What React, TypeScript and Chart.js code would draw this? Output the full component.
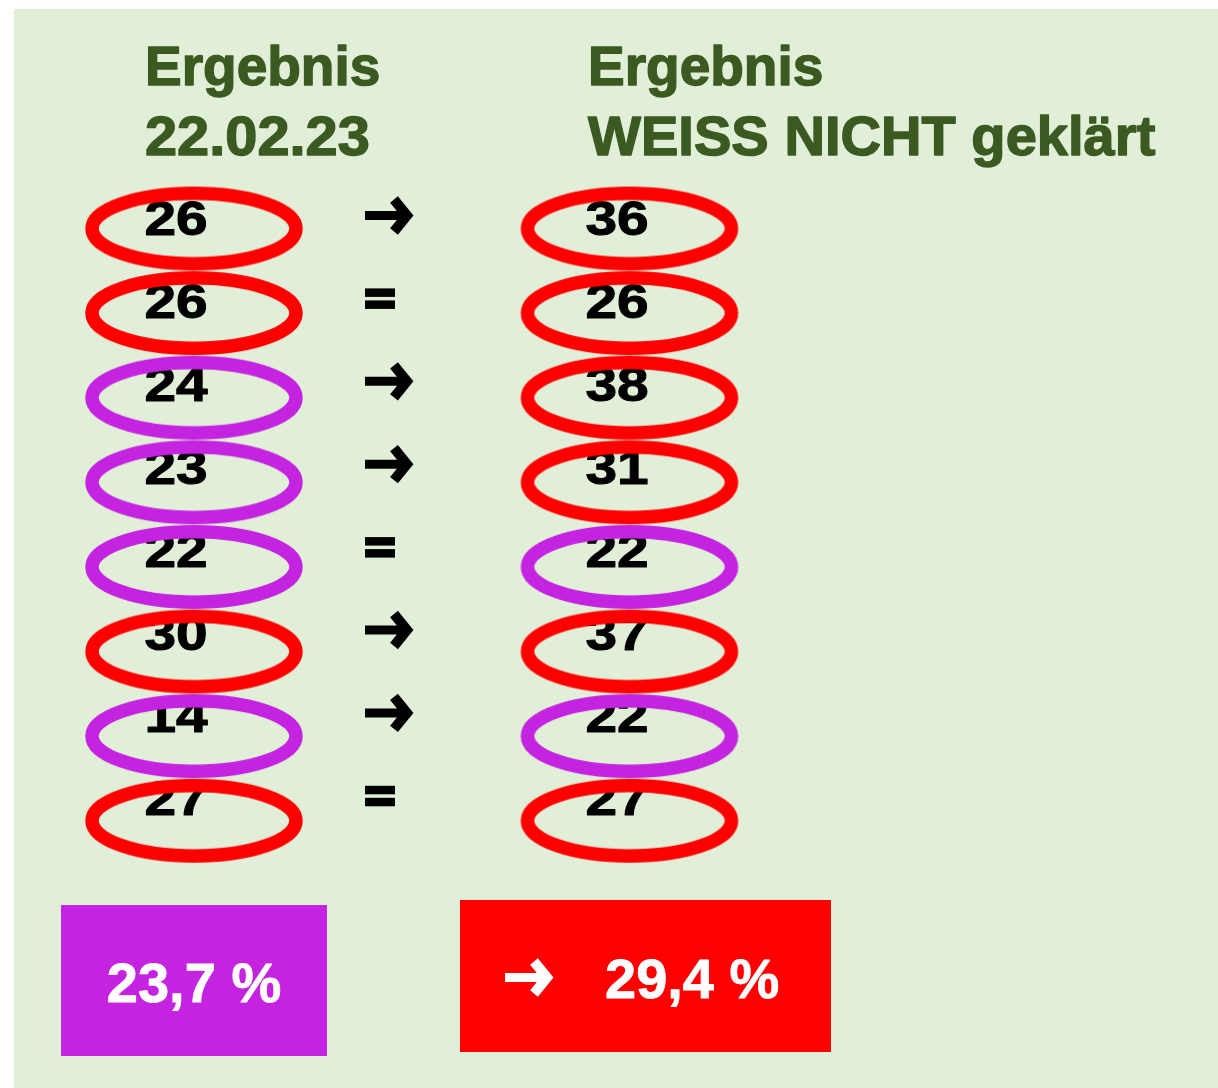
import React, { useEffect, useRef } from 'react';
import { Chart, registerables } from 'chart.js';

Chart.register(...registerables);

// ---- data ----
const rowIndex = [0, 1, 2, 3, 4, 5, 6, 7];
const beforeValues = [26, 26, 24, 23, 22, 30, 14, 27];
const afterValues = [36, 26, 38, 31, 22, 37, 22, 27];
const averageValues = [23.7, 29.4];
const headerLeft = ['Ergebnis', '22.02.23'];
const headerRight = ['Ergebnis', 'WEISS NICHT geklärt'];
const threshold = 25;

// ---- styles / layout ----
const W = 1218;
const H = 1088;
const RED = '#ff0000';
const PURPLE = '#c424e0';
const GREEN_TEXT = '#3b5a21';
const PANEL = '#e1eed8';
const colorFor = (v: number) => (v >= threshold ? RED : PURPLE);

const COL_LEFT = 194;
const COL_RIGHT = 629.5;
const TEXT_LEFT = 176;
const TEXT_RIGHT = 617;
const SYMBOL_X = 365;
const NUM_STRETCH = 1.16;
const HEADER_STRETCH_LEFT = [1.0, 1.05];
const HEADER_STRETCH_RIGHT = [1.0, 1.02];

function makeEllipse(color: string): HTMLCanvasElement {
  const c = document.createElement('canvas');
  c.width = 222;
  c.height = 88;
  const ctx = c.getContext('2d')!;
  ctx.strokeStyle = color;
  ctx.lineWidth = 13.5;
  ctx.beginPath();
  ctx.ellipse(111, 44, 102, 35.3, 0, 0, Math.PI * 2);
  ctx.stroke();
  return c;
}

function drawArrow(ctx: CanvasRenderingContext2D, x0: number, cy: number, color: string) {
  ctx.save();
  ctx.strokeStyle = color;
  ctx.lineCap = 'butt';
  ctx.lineJoin = 'miter';
  ctx.miterLimit = 10;
  ctx.lineWidth = 9;
  ctx.beginPath();
  ctx.moveTo(x0, cy);
  ctx.lineTo(x0 + 38, cy);
  ctx.stroke();
  ctx.lineWidth = 10;
  ctx.beginPath();
  ctx.moveTo(x0 + 29, cy - 16);
  ctx.lineTo(x0 + 42, cy);
  ctx.lineTo(x0 + 29, cy + 16);
  ctx.stroke();
  ctx.restore();
}

function drawEquals(ctx: CanvasRenderingContext2D, x0: number, cy: number, color: string) {
  ctx.save();
  ctx.fillStyle = color;
  ctx.fillRect(x0, cy - 10, 30, 8.5);
  ctx.fillRect(x0, cy + 2, 30, 8.5);
  ctx.restore();
}

function heavyText(ctx: CanvasRenderingContext2D, text: string, x: number, y: number, sx: number, weight: number) {
  ctx.save();
  ctx.translate(x, y);
  ctx.scale(sx, 1);
  ctx.fillText(text, 0, 0);
  if (weight > 0) {
    ctx.lineWidth = weight;
    ctx.lineJoin = 'round';
    ctx.strokeStyle = ctx.fillStyle;
    ctx.strokeText(text, 0, 0);
  }
  ctx.restore();
}

const fmtPct = (v: number) => v.toFixed(1).replace('.', ',') + ' %';

const slidePlugin = {
  id: 'slide',
  beforeDraw(chart: any) {
    const { ctx } = chart;
    ctx.save();
    ctx.fillStyle = '#ffffff';
    ctx.fillRect(0, 0, W, H);
    ctx.fillStyle = PANEL;
    ctx.fillRect(14, 9, W - 14, H - 9);
    ctx.restore();
  },
  beforeDatasetsDraw(chart: any) {
    const { ctx } = chart;
    const xs = chart.scales.x;
    const yt = chart.scales.yText;
    ctx.save();
    // headers
    ctx.fillStyle = GREEN_TEXT;
    ctx.font = 'bold 55px "Liberation Sans", Arial, sans-serif';
    ctx.textAlign = 'left';
    ctx.textBaseline = 'alphabetic';
    headerLeft.forEach((t, i) =>
      heavyText(ctx, t, xs.getPixelForValue(145), 85 + i * 70, HEADER_STRETCH_LEFT[i], 1.4)
    );
    headerRight.forEach((t, i) =>
      heavyText(ctx, t, xs.getPixelForValue(588), 85 + i * 70, HEADER_STRETCH_RIGHT[i], 1.4)
    );

    // numbers
    ctx.fillStyle = '#000000';
    ctx.font = 'bold 49px "Liberation Sans", Arial, sans-serif';
    ctx.textAlign = 'center';
    rowIndex.forEach((r) => {
      const yb = yt.getPixelForValue(r);
      heavyText(ctx, String(beforeValues[r]), xs.getPixelForValue(TEXT_LEFT), yb, NUM_STRETCH, 1);
      heavyText(ctx, String(afterValues[r]), xs.getPixelForValue(TEXT_RIGHT), yb, NUM_STRETCH, 1);
      const cy = yb - 19.5;
      if (afterValues[r] === beforeValues[r]) {
        drawEquals(ctx, xs.getPixelForValue(SYMBOL_X), cy, '#000000');
      } else {
        drawArrow(ctx, xs.getPixelForValue(SYMBOL_X), cy, '#000000');
      }
    });
    ctx.restore();
  },
  afterDatasetsDraw(chart: any) {
    const { ctx } = chart;
    const xs = chart.scales.x;
    ctx.save();
    // left average box
    const v0 = averageValues[0];
    ctx.fillStyle = colorFor(v0);
    const l0 = xs.getPixelForValue(61);
    const r0 = xs.getPixelForValue(327);
    ctx.fillRect(l0, 905, r0 - l0, 151);
    ctx.fillStyle = '#ffffff';
    ctx.font = 'bold 56px "Liberation Sans", Arial, sans-serif';
    ctx.textAlign = 'center';
    ctx.textBaseline = 'alphabetic';
    heavyText(ctx, fmtPct(v0), (l0 + r0) / 2, 1002, 1, 0.8);

    // right average box
    const v1 = averageValues[1];
    ctx.fillStyle = colorFor(v1);
    const l1 = xs.getPixelForValue(460);
    const r1 = xs.getPixelForValue(831);
    ctx.fillRect(l1, 900, r1 - l1, 152);
    drawArrow(ctx, xs.getPixelForValue(505), 977.5, '#ffffff');
    ctx.fillStyle = '#ffffff';
    ctx.textAlign = 'left';
    heavyText(ctx, fmtPct(v1), xs.getPixelForValue(605), 998, 1, 0.8);
    ctx.restore();
  },
};

export default function App() {
  const ref = useRef<HTMLCanvasElement | null>(null);
  useEffect(() => {
    if (!ref.current) return;
    const redE = makeEllipse(RED);
    const purpleE = makeEllipse(PURPLE);
    const styleFor = (v: number) => (v >= threshold ? redE : purpleE);
    const chart = new Chart(ref.current, {
      type: 'scatter',
      data: {
        datasets: [
          {
            label: 'Ergebnis 22.02.23',
            data: rowIndex.map((r) => ({ x: COL_LEFT, y: r })),
            pointStyle: beforeValues.map(styleFor) as any,
            pointRadius: 5,
            borderColor: beforeValues.map(colorFor),
            backgroundColor: 'transparent',
          },
          {
            label: 'Ergebnis WEISS NICHT geklärt',
            data: rowIndex.map((r) => ({ x: COL_RIGHT, y: r })),
            pointStyle: afterValues.map(styleFor) as any,
            pointRadius: 5,
            borderColor: afterValues.map(colorFor),
            backgroundColor: 'transparent',
          },
        ],
      },
      options: {
        responsive: false,
        animation: false,
        devicePixelRatio: 1,
        events: [],
        layout: { padding: 0, autoPadding: false },
        plugins: { legend: { display: false }, tooltip: { enabled: false }, title: { display: false } },
        scales: {
          x: { type: 'linear', min: 0, max: W, display: false },
          y: { type: 'linear', min: -2.701, max: -2.701 + H / 84.6, reverse: true, display: false },
          yText: { type: 'linear', min: -235 / 82.9, max: -235 / 82.9 + H / 82.9, reverse: true, display: false },
        },
      },
      plugins: [slidePlugin],
    });
    return () => chart.destroy();
  }, []);
  return (
    <div style={{ position: 'absolute', left: 0, top: 0, width: W, height: H }}>
      <canvas ref={ref} width={W} height={H} style={{ display: 'block', width: W, height: H }} />
    </div>
  );
}
